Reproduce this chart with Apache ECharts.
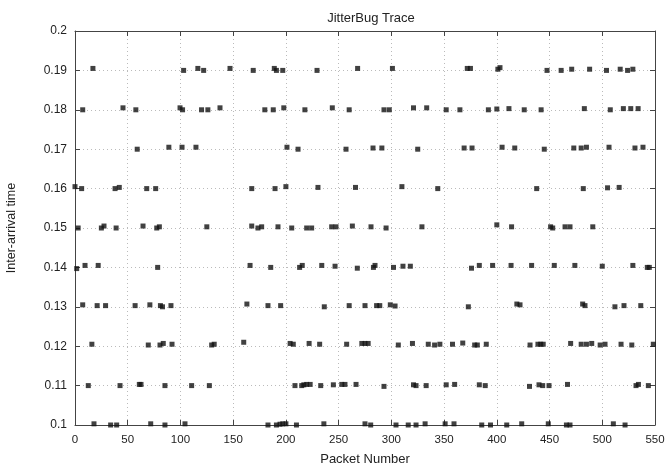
<!DOCTYPE html>
<html>
<head>
<meta charset="utf-8">
<script src="https://cdn.jsdelivr.net/npm/echarts@6/dist/echarts.min.js"></script>
<style>
  html, body { margin: 0; padding: 0; background: #fff; }
  #chart { width: 669px; height: 467px; }
</style>
</head>
<body>
<div id="chart"></div>
<script>
// [packet number, inter-arrival time], grouped by band
var band019 = [[17, 0.1905], [103, 0.19], [116.5, 0.1905], [122, 0.19], [147, 0.1905], [169, 0.19], [189, 0.1905], [191, 0.19], [197, 0.19], [229.5, 0.19], [268, 0.1905], [301, 0.1905], [372, 0.1905], [375, 0.1905], [401, 0.1903], [403, 0.1907], [447.6, 0.19], [461, 0.19], [471, 0.1903], [488, 0.1903], [504, 0.19], [517, 0.1903], [524, 0.19], [529, 0.1903]];
var band018 = [[7.3, 0.18], [45.5, 0.1805], [57.7, 0.18], [99.6, 0.1805], [102, 0.18], [120, 0.18], [126, 0.18], [137.5, 0.1805], [180, 0.18], [188, 0.18], [198, 0.1805], [218, 0.18], [244, 0.1805], [260, 0.18], [293, 0.18], [298, 0.18], [321, 0.1805], [333.5, 0.1805], [352, 0.18], [365, 0.18], [392, 0.18], [400, 0.1802], [411.5, 0.1803], [426, 0.18], [442, 0.18], [483, 0.1803], [507.6, 0.18], [520, 0.1803], [527, 0.1803], [534, 0.1803]];
var band017 = [[59, 0.17], [89, 0.1705], [101.5, 0.1705], [114.7, 0.1705], [201, 0.1705], [211.5, 0.17], [257, 0.17], [282.6, 0.1703], [291, 0.1703], [325, 0.17], [369, 0.1703], [376.5, 0.1703], [405, 0.1705], [417, 0.1703], [445, 0.17], [473, 0.1703], [480, 0.1703], [485, 0.1705], [506.4, 0.1705], [531, 0.1703], [538.6, 0.1705]];
var band016 = [[0, 0.1605], [6.3, 0.16], [38, 0.16], [42, 0.1603], [68, 0.16], [76.5, 0.16], [167.6, 0.16], [189.7, 0.16], [200, 0.1605], [230.4, 0.1603], [266, 0.1603], [310, 0.1605], [344, 0.16], [437.8, 0.16], [482, 0.16], [505, 0.1602], [516, 0.1603]];
var band015 = [[3, 0.15], [25, 0.15], [27.5, 0.1505], [39, 0.15], [64.5, 0.1505], [77.5, 0.15], [80, 0.1503], [125, 0.1503], [167.6, 0.1505], [173.5, 0.15], [177, 0.1503], [192.5, 0.1503], [205.5, 0.15], [219.7, 0.15], [224.4, 0.15], [243.4, 0.1503], [247.5, 0.1503], [263, 0.1505], [280.7, 0.1503], [295, 0.15], [329, 0.1503], [400, 0.1508], [414, 0.1503], [451, 0.1503], [453, 0.15], [464.7, 0.1503], [469.4, 0.1503], [491, 0.1503]];
var band014 = [[1.6, 0.1397], [9.5, 0.1405], [22, 0.1405], [78.4, 0.14], [166, 0.1405], [185.6, 0.14], [213, 0.14], [215.5, 0.1405], [234, 0.1405], [246.6, 0.1403], [267.7, 0.1398], [283, 0.14], [284.5, 0.1405], [302, 0.14], [311, 0.1403], [318, 0.1403], [376, 0.1398], [383.4, 0.1405], [396, 0.1405], [413.5, 0.1405], [433, 0.1405], [454.5, 0.1405], [474, 0.1405], [500, 0.1403], [529, 0.1405], [542.7, 0.14], [544.6, 0.14]];
var band013 = [[7.3, 0.1305], [21, 0.1303], [29, 0.1303], [57, 0.1303], [71, 0.1305], [81, 0.1303], [83, 0.13], [91, 0.1303], [163, 0.1307], [183, 0.1303], [195, 0.1303], [236.4, 0.13], [260, 0.1303], [275, 0.1303], [286, 0.1303], [289, 0.1303], [299, 0.1305], [303.5, 0.1302], [373, 0.13], [419, 0.1307], [422, 0.1305], [481.4, 0.1307], [483.6, 0.1303], [512, 0.13], [520.6, 0.1303], [536.5, 0.1303]];
var band012 = [[16, 0.1205], [69.5, 0.1203], [80.6, 0.1203], [83.7, 0.1207], [92, 0.1205], [129.6, 0.1203], [132, 0.1205], [160, 0.121], [204, 0.1207], [207, 0.1205], [222, 0.1207], [232, 0.1205], [257.6, 0.1205], [272, 0.1207], [275, 0.1207], [278, 0.1207], [306.6, 0.1203], [320, 0.1207], [335, 0.1205], [341, 0.1203], [346, 0.1205], [358, 0.1205], [367.7, 0.1208], [379, 0.1203], [381.5, 0.1203], [390, 0.1205], [431.5, 0.1203], [439, 0.1205], [441.6, 0.1205], [444, 0.1205], [470, 0.1207], [480, 0.1205], [485, 0.1205], [490, 0.1207], [498, 0.1203], [502.6, 0.1205], [517.8, 0.1205], [528, 0.1203], [548.4, 0.1205]];
var band011 = [[12.6, 0.11], [42.7, 0.11], [61, 0.1103], [62.6, 0.1103], [85.3, 0.11], [110.6, 0.11], [127.4, 0.11], [208.6, 0.11], [215, 0.11], [217, 0.1102], [219.7, 0.1103], [223, 0.1103], [233, 0.11], [245, 0.1102], [253, 0.1103], [256, 0.1103], [266.5, 0.1103], [293, 0.1098], [321, 0.1102], [323.4, 0.11], [333, 0.11], [352, 0.1102], [360, 0.1103], [383.4, 0.1102], [389, 0.11], [431, 0.1098], [440, 0.1102], [443.5, 0.11], [449.5, 0.11], [467, 0.1103], [532, 0.11], [534.3, 0.1103], [543.7, 0.11]];
var band010 = [[18, 0.1003], [33.8, 0.1], [39.5, 0.1], [71.8, 0.1003], [85.3, 0.1], [104.3, 0.1003], [183, 0.1], [191, 0.1], [194.4, 0.1002], [197, 0.1003], [200, 0.1003], [210, 0.1], [236, 0.1003], [275, 0.1003], [280.4, 0.1], [304.4, 0.1], [316, 0.1], [323.4, 0.1], [332, 0.1003], [351, 0.1003], [359.4, 0.1003], [385.7, 0.1], [394, 0.1], [409.4, 0.1], [423.6, 0.1003], [448.8, 0.1003], [466, 0.1], [469.4, 0.1], [510.5, 0.1003], [521.6, 0.1]];

var xTicks = ['0', '50', '100', '150', '200', '250', '300', '350', '400', '450', '500', '550'];
var yTickLabels = ['0.1', '0.11', '0.12', '0.13', '0.14', '0.15', '0.16', '0.17', '0.18', '0.19', '0.2'];

var points = [].concat(band019, band018, band017, band016, band015, band014, band013, band012, band011, band010);

var font = 'Liberation Sans, Arial, sans-serif';
var axisColor = '#444';
var textColor = '#222';

function frameAxis(pos, isX) {
    return {
        type: 'value',
        position: pos,
        min: isX ? 0 : 0.1,
        max: isX ? 550 : 0.2,
        interval: isX ? 50 : 0.01,
        axisLine: { show: true, onZero: false, lineStyle: { color: axisColor, width: 1 } },
        axisTick: { show: true, inside: true, length: 5, lineStyle: { color: axisColor } },
        axisLabel: { show: false },
        splitLine: { show: false }
    };
}

var xBottom = frameAxis('bottom', true);
xBottom.axisLabel = {
    show: true, margin: 9, fontFamily: font, fontSize: 11.5, color: textColor,
    formatter: function (v) { return xTicks[Math.round(v / 50)]; }
};
xBottom.splitLine = { show: true, lineStyle: { color: '#bbb', type: [1, 3], width: 1 } };
xBottom.name = 'Packet Number';
xBottom.nameLocation = 'middle';
xBottom.nameGap = 28;
xBottom.nameTextStyle = { fontFamily: font, fontSize: 13, color: textColor };

var yLeft = frameAxis('left', false);
yLeft.axisLabel = {
    show: true, margin: 8, fontFamily: font, fontSize: 12, color: textColor,
    formatter: function (v) { return yTickLabels[Math.round((v - 0.1) / 0.01)]; }
};
yLeft.splitLine = { show: true, lineStyle: { color: '#bbb', type: [1, 3], width: 1 } };
yLeft.name = 'Inter-arrival time';
yLeft.nameLocation = 'middle';
yLeft.nameGap = 57;
yLeft.nameTextStyle = { fontFamily: font, fontSize: 12.5, color: textColor };

var option = {
    animation: false,
    backgroundColor: '#fff',
    title: {
        text: 'JitterBug Trace',
        left: 366,
        top: 7,
        textAlign: 'center',
        textStyle: { fontFamily: font, fontSize: 13, fontWeight: 'normal', color: textColor }
    },
    grid: { left: 75, right: 14, top: 31, bottom: 42, containLabel: false, outerBoundsMode: 'none' },
    xAxis: [xBottom, frameAxis('top', true)],
    yAxis: [yLeft, frameAxis('right', false)],
    series: [
        {
            type: 'scatter',
            xAxisIndex: 0,
            yAxisIndex: 0,
            symbol: 'rect',
            symbolSize: 5,
            itemStyle: { color: '#111' },
            data: points
        }
    ]
};

var myChart = echarts.init(document.getElementById('chart'));
myChart.setOption(option);
</script>
</body>
</html>
